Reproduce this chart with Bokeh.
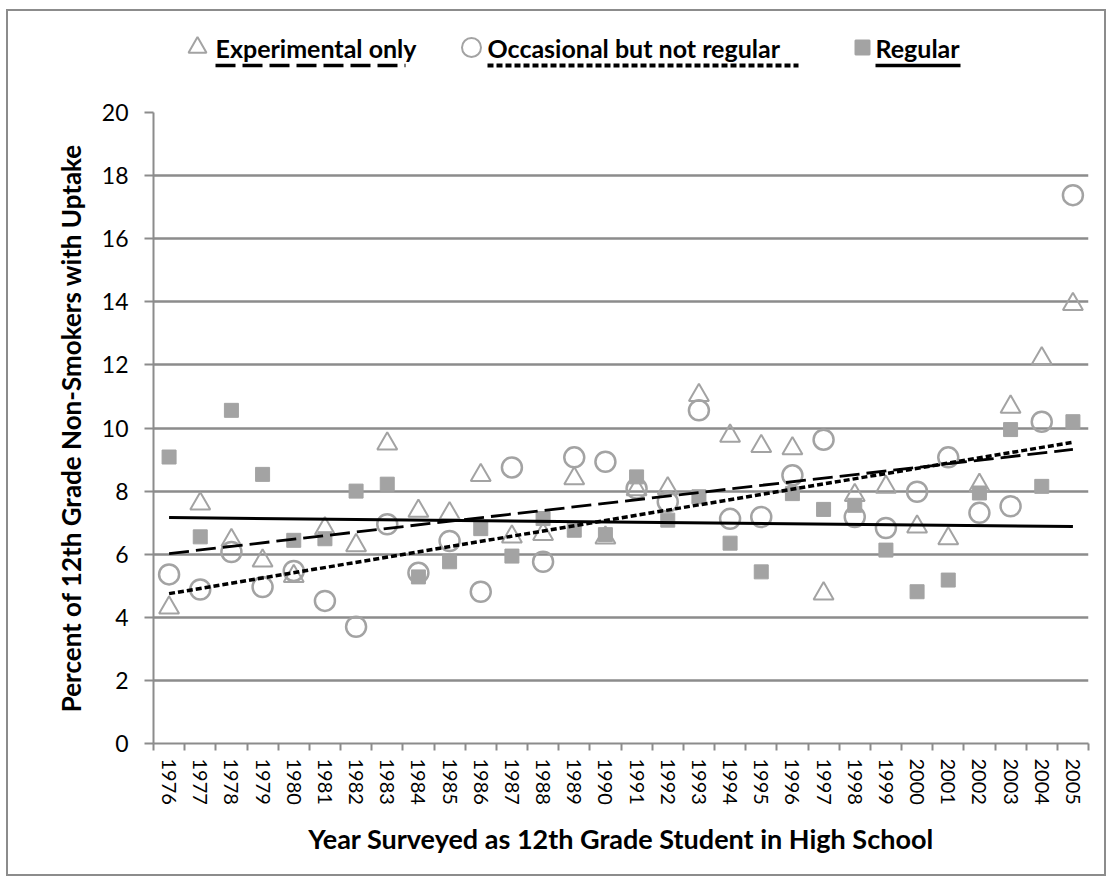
import numpy as np
from bokeh.plotting import figure
from bokeh.layouts import column
from bokeh.models import Range1d, FixedTicker
from bokeh.core.properties import value
from bokeh.embed import file_html
from bokeh.resources import INLINE

years = list(range(1976, 2006))
experimental = [4.3, 7.6, 6.44, 5.79, 5.3, 6.81, 6.28, 9.5, 7.37, 7.29,
                8.5, 6.55, 6.63, 8.4, 6.52, 8.05, 8.08, 11.04, 9.75, 9.42,
                9.35, 4.75, 7.87, 8.13, 6.87, 6.5, 8.19, 10.67, 12.2, 13.92]
occasional = [5.36, 4.88, 6.07, 4.96, 5.47, 4.52, 3.7, 6.95, 5.41, 6.42,
              4.81, 8.75, 5.76, 9.07, 8.93, 8.08, 7.66, 10.56, 7.12, 7.18,
              8.5, 9.63, 7.18, 6.83, 7.98, 9.07, 7.31, 7.52, 10.2, 17.38]
regular = [9.08, 6.55, 10.56, 8.53, 6.44, 6.49, 8.0, 8.22, 5.28, 5.76,
           6.81, 5.94, 7.13, 6.76, 6.62, 8.45, 7.08, 7.82, 6.35, 5.44,
           7.92, 7.42, 7.55, 6.13, 4.81, 5.18, 7.94, 9.95, 8.15, 10.2]
# linear trend lines (value at first and last year)
trend_years = [1976, 2005]
experimental_trend = [6.02, 9.32]
occasional_trend = [4.75, 9.55]
regular_trend = [7.16, 6.88]
y_ticks = list(range(0, 21, 2))
series_names = ["Experimental only", "Occasional but not regular", "Regular"]

FONT = "Lato"
GRAY = "#8c8c8c"
MARK = "#a3a3a3"

OX, OY = 8, 11     # page offset of the content box (inside the border)
WC = 1096          # content width inside the border
LH = 80            # legend strip height
MH = 783           # main figure height
BL, BR, BT, BB = 145, 16, 21, 131
x0, x1 = years[0] - 0.5, years[-1] + 0.5

# ---------------- legend strip (frames of a column are aligned with the chart's) ----------------
leg = figure(width=WC, height=LH, output_backend="svg", toolbar_location=None,
             x_range=Range1d(OX + BL, OX + WC - BR), y_range=Range1d(OY + LH, OY),
             x_axis_location=None, y_axis_location=None,
             min_border_left=BL, min_border_right=BR, min_border_top=0, min_border_bottom=0)
leg.outline_line_color = None
leg.xgrid.grid_line_color = None
leg.ygrid.grid_line_color = None

styles = [("20 7", 2.8), ("6 3", 3.5), ("solid", 3)]
leg_y = 47
marker_x = [197, 471, 862]
text_x = [215, 487, 875]
text_w = [190, 311, 85]
leg_markers = ["triangle", "circle", "square"]
leg_sizes = [18, 19, 14]
leg_fill = [None, None, MARK]
for i in range(3):
    leg.scatter([marker_x[i]], [leg_y], marker=leg_markers[i], size=leg_sizes[i],
                fill_color=leg_fill[i], line_color=MARK, line_width=2)
leg.text(text_x, [leg_y] * 3, text=series_names, text_font=value(FONT),
         text_font_style="bold", text_font_size="25px", text_baseline="middle",
         text_align="left", text_color="black")
for i in range(3):
    dash, lw = styles[i]
    leg.line([text_x[i], text_x[i] + text_w[i]], [leg_y + 18] * 2, line_color="black",
             line_width=lw + 0.5, line_dash=dash)

# ---------------- main chart ----------------
p = figure(width=WC, height=MH, output_backend="svg", toolbar_location=None,
           x_range=Range1d(x0, x1), y_range=Range1d(0, 20),
           min_border_left=BL, min_border_top=BT, min_border_right=BR, min_border_bottom=BB)
p.outline_line_color = None

xa = p.xaxis[0]
xa.ticker = FixedTicker(ticks=years, minor_ticks=[y - 0.5 for y in years] + [years[-1] + 0.5])
xa.major_tick_line_color = None
xa.minor_tick_line_color = GRAY
xa.minor_tick_line_width = 2
xa.minor_tick_out = 7
xa.minor_tick_in = 0
xa.axis_line_color = GRAY
xa.axis_line_width = 2
xa.major_label_orientation = "vertical"
xa.major_label_text_font = FONT
xa.major_label_text_font_size = "20px"
xa.major_label_text_color = "black"
xa.major_label_standoff = 8
xa.axis_label = "Year Surveyed as 12th Grade Student in High School"
xa.axis_label_text_font = FONT
xa.axis_label_text_font_style = "bold"
xa.axis_label_text_font_size = "27px"
xa.axis_label_text_color = "black"
xa.axis_label_standoff = 14

ya = p.yaxis[0]
ya.ticker = FixedTicker(ticks=y_ticks)
ya.major_tick_line_color = GRAY
ya.major_tick_line_width = 2
ya.major_tick_out = 9
ya.major_tick_in = 0
ya.minor_tick_line_color = None
ya.axis_line_color = GRAY
ya.axis_line_width = 2
ya.major_label_text_font = FONT
ya.major_label_text_font_size = "23px"
ya.major_label_text_color = "black"
ya.major_label_standoff = 16
ya.axis_label = "Percent of 12th Grade Non-Smokers with Uptake"
ya.axis_label_text_font = FONT
ya.axis_label_text_font_style = "bold"
ya.axis_label_text_font_size = "26px"
ya.axis_label_text_color = "black"
ya.axis_label_standoff = 12

p.xgrid.grid_line_color = None
p.ygrid.ticker = FixedTicker(ticks=y_ticks)
p.ygrid.grid_line_color = GRAY
p.ygrid.grid_line_width = 2.5

p.scatter(years, experimental, marker="triangle", size=20, fill_color=None,
          line_color=MARK, line_width=2)
p.scatter(years, occasional, marker="circle", size=20, fill_color=None,
          line_color=MARK, line_width=2.5)
p.scatter(years, regular, marker="square", size=14, fill_color=MARK, line_color=MARK)

for vals, (dash, lw) in zip([experimental_trend, occasional_trend, regular_trend], styles):
    p.line(trend_years, vals, line_color="black", line_width=lw, line_dash=dash)

layout = column(leg, p, spacing=0,
                styles={"border": "2px solid #8c8c8c", "margin": "9px 0 0 6px",
                        "background-color": "white"})

open("out.html", "w").write(file_html(layout, INLINE))
